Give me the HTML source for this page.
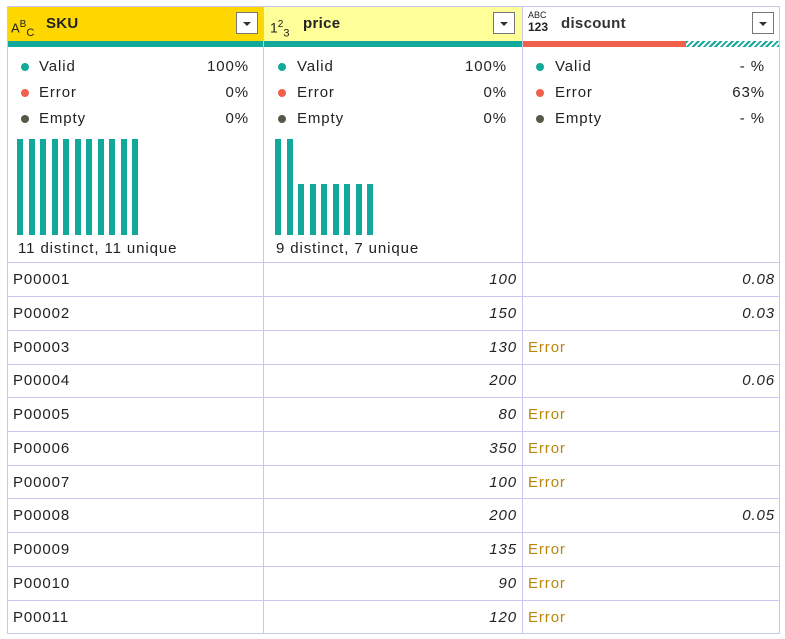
<!DOCTYPE html>
<html><head><meta charset="utf-8"><style>
body{margin:0;width:785px;height:639px;background:#fff;position:relative;overflow:hidden;font-family:"Liberation Sans",sans-serif;color:#222}
div{position:absolute;box-sizing:border-box}
.t{font-size:15px;white-space:nowrap;line-height:18px;letter-spacing:0.9px}
.b{background:#12a89a}
.dd{width:22px;height:22px;border:1px solid #777;background:#fff;top:12px}
.dd:after{content:"";position:absolute;left:6px;top:9px;border-left:4px solid transparent;border-right:4px solid transparent;border-top:4px solid #333}
.dot{width:8px;height:8px;border-radius:50%}
.g{color:#b8860b}
.i{font-style:italic}
</style></head><body>
<div style="left:7px;top:6px;width:773px;height:628px;border:1px solid #c8c8ee"></div>
<div style="left:8px;top:7px;width:255px;height:34px;background:#ffd700"></div>
<div style="left:264px;top:7px;width:258px;height:34px;background:#ffff99"></div>
<div class="t" style="left:11px;top:16px;font-size:13px;letter-spacing:0"><span>A</span><sup style="font-size:10px">B</sup><sub style="font-size:11px">C</sub></div>
<div class="t" style="left:46px;top:15px;font-weight:bold;letter-spacing:0.3px">SKU</div>
<div class="dd" style="left:236px"></div>
<div class="t" style="left:270px;top:16px;font-size:14px;letter-spacing:0">1<sup style="font-size:10px">2</sup><sub style="font-size:11px">3</sub></div>
<div class="t" style="left:303px;top:15px;font-weight:bold;letter-spacing:0.3px">price</div>
<div class="dd" style="left:493px"></div>
<div style="left:528px;top:11px;font-size:9px;line-height:9px">ABC</div>
<div style="left:528px;top:21px;font-size:12px;line-height:13px;font-weight:bold">123</div>
<div class="t" style="left:561px;top:15px;font-weight:bold;color:#333;letter-spacing:0.3px">discount</div>
<div class="dd" style="left:752px"></div>
<div style="left:8px;top:41px;width:514px;height:6px;background:#12a89a"></div>
<div style="left:523px;top:41px;width:163px;height:6px;background:#f0604a"></div>
<div style="left:686px;top:41px;width:93px;height:6px;background:repeating-linear-gradient(135deg,#12a89a 0 2px,#fff 2px 4px)"></div>
<div style="left:263px;top:7px;width:1px;height:627px;background:#c8c8ee"></div>
<div style="left:522px;top:7px;width:1px;height:627px;background:#c8c8ee"></div>
<div class="dot" style="left:21px;top:63px;background:#12a89a"></div>
<div class="dot" style="left:21px;top:89px;background:#f0604a"></div>
<div class="dot" style="left:21px;top:115px;background:#555a48"></div>
<div class="t" style="left:39px;top:58px">Valid</div><div class="t" style="left:39px;top:84px">Error</div><div class="t" style="left:39px;top:110px">Empty</div>
<div class="t" style="right:536px;top:58px">100%</div><div class="t" style="right:536px;top:84px">0%</div><div class="t" style="right:536px;top:110px">0%</div>
<div class="dot" style="left:278px;top:63px;background:#12a89a"></div>
<div class="dot" style="left:278px;top:89px;background:#f0604a"></div>
<div class="dot" style="left:278px;top:115px;background:#555a48"></div>
<div class="t" style="left:297px;top:58px">Valid</div><div class="t" style="left:297px;top:84px">Error</div><div class="t" style="left:297px;top:110px">Empty</div>
<div class="t" style="right:278px;top:58px">100%</div><div class="t" style="right:278px;top:84px">0%</div><div class="t" style="right:278px;top:110px">0%</div>
<div class="dot" style="left:536px;top:63px;background:#12a89a"></div>
<div class="dot" style="left:536px;top:89px;background:#f0604a"></div>
<div class="dot" style="left:536px;top:115px;background:#555a48"></div>
<div class="t" style="left:555px;top:58px">Valid</div><div class="t" style="left:555px;top:84px">Error</div><div class="t" style="left:555px;top:110px">Empty</div>
<div class="t" style="right:20px;top:58px">- %</div><div class="t" style="right:20px;top:84px">63%</div><div class="t" style="right:20px;top:110px">- %</div>
<div class="b" style="left:17px;top:139px;width:6px;height:96px"></div>
<div class="b" style="left:28.5px;top:139px;width:6px;height:96px"></div>
<div class="b" style="left:40px;top:139px;width:6px;height:96px"></div>
<div class="b" style="left:51.5px;top:139px;width:6px;height:96px"></div>
<div class="b" style="left:63px;top:139px;width:6px;height:96px"></div>
<div class="b" style="left:74.5px;top:139px;width:6px;height:96px"></div>
<div class="b" style="left:86px;top:139px;width:6px;height:96px"></div>
<div class="b" style="left:97.5px;top:139px;width:6px;height:96px"></div>
<div class="b" style="left:109px;top:139px;width:6px;height:96px"></div>
<div class="b" style="left:120.5px;top:139px;width:6px;height:96px"></div>
<div class="b" style="left:132px;top:139px;width:6px;height:96px"></div>
<div class="b" style="left:275px;top:139px;width:6px;height:96px"></div>
<div class="b" style="left:286.5px;top:139px;width:6px;height:96px"></div>
<div class="b" style="left:298px;top:184px;width:6px;height:51px"></div>
<div class="b" style="left:309.5px;top:184px;width:6px;height:51px"></div>
<div class="b" style="left:321px;top:184px;width:6px;height:51px"></div>
<div class="b" style="left:332.5px;top:184px;width:6px;height:51px"></div>
<div class="b" style="left:344px;top:184px;width:6px;height:51px"></div>
<div class="b" style="left:355.5px;top:184px;width:6px;height:51px"></div>
<div class="b" style="left:367px;top:184px;width:6px;height:51px"></div>
<div class="t" style="left:18px;top:240px">11 distinct, 11 unique</div>
<div class="t" style="left:276px;top:240px">9 distinct, 7 unique</div>
<div style="left:8px;top:262px;width:771px;height:1px;background:#c8c8ee"></div>
<div style="left:8px;top:296px;width:771px;height:1px;background:#c8c8ee"></div>
<div style="left:8px;top:330px;width:771px;height:1px;background:#c8c8ee"></div>
<div style="left:8px;top:364px;width:771px;height:1px;background:#c8c8ee"></div>
<div style="left:8px;top:397px;width:771px;height:1px;background:#c8c8ee"></div>
<div style="left:8px;top:431px;width:771px;height:1px;background:#c8c8ee"></div>
<div style="left:8px;top:465px;width:771px;height:1px;background:#c8c8ee"></div>
<div style="left:8px;top:498px;width:771px;height:1px;background:#c8c8ee"></div>
<div style="left:8px;top:532px;width:771px;height:1px;background:#c8c8ee"></div>
<div style="left:8px;top:566px;width:771px;height:1px;background:#c8c8ee"></div>
<div style="left:8px;top:600px;width:771px;height:1px;background:#c8c8ee"></div>

<div class="t" style="left:13px;top:271px">P00001</div><div class="t i" style="right:268px;top:271px">100</div><div class="t i" style="right:10px;top:271px">0.08</div>
<div class="t" style="left:13px;top:305px">P00002</div><div class="t i" style="right:268px;top:305px">150</div><div class="t i" style="right:10px;top:305px">0.03</div>
<div class="t" style="left:13px;top:339px">P00003</div><div class="t i" style="right:268px;top:339px">130</div><div class="t g" style="left:528px;top:339px">Error</div>
<div class="t" style="left:13px;top:372px">P00004</div><div class="t i" style="right:268px;top:372px">200</div><div class="t i" style="right:10px;top:372px">0.06</div>
<div class="t" style="left:13px;top:406px">P00005</div><div class="t i" style="right:268px;top:406px">80</div><div class="t g" style="left:528px;top:406px">Error</div>
<div class="t" style="left:13px;top:440px">P00006</div><div class="t i" style="right:268px;top:440px">350</div><div class="t g" style="left:528px;top:440px">Error</div>
<div class="t" style="left:13px;top:474px">P00007</div><div class="t i" style="right:268px;top:474px">100</div><div class="t g" style="left:528px;top:474px">Error</div>
<div class="t" style="left:13px;top:507px">P00008</div><div class="t i" style="right:268px;top:507px">200</div><div class="t i" style="right:10px;top:507px">0.05</div>
<div class="t" style="left:13px;top:541px">P00009</div><div class="t i" style="right:268px;top:541px">135</div><div class="t g" style="left:528px;top:541px">Error</div>
<div class="t" style="left:13px;top:575px">P00010</div><div class="t i" style="right:268px;top:575px">90</div><div class="t g" style="left:528px;top:575px">Error</div>
<div class="t" style="left:13px;top:609px">P00011</div><div class="t i" style="right:268px;top:609px">120</div><div class="t g" style="left:528px;top:609px">Error</div>
</body></html>
